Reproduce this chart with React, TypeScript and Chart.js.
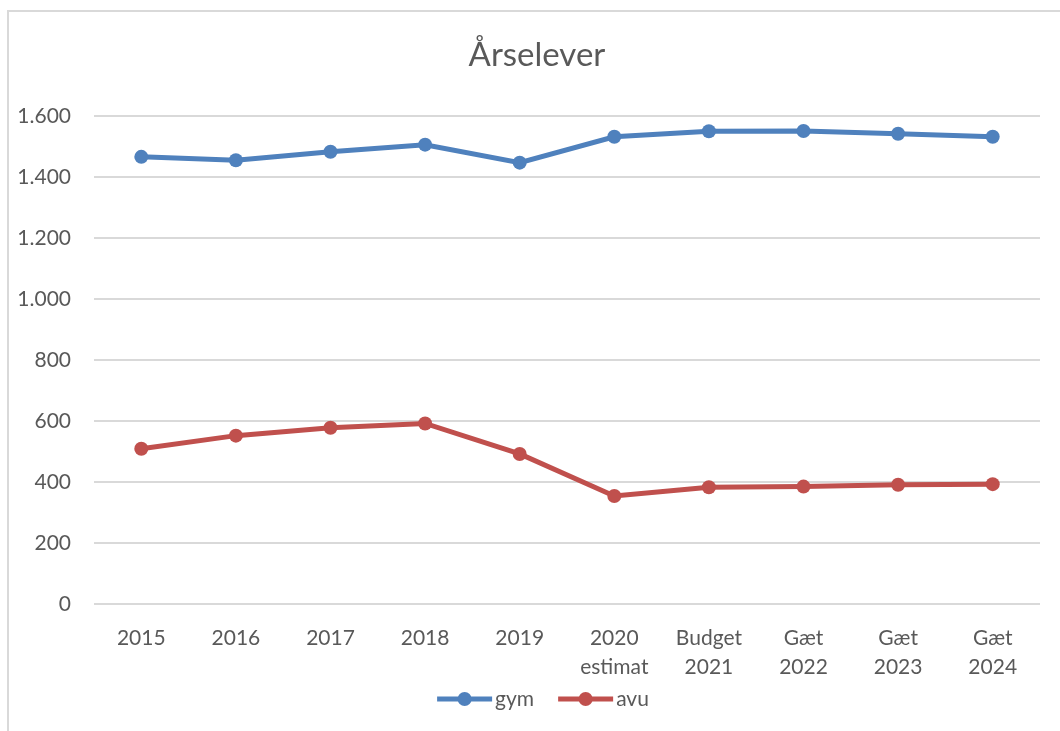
import React, { useEffect, useRef } from "react";
import { Chart, registerables } from "chart.js";

Chart.register(...registerables);

const chartTitle = "Årselever";
const categories: string[][] = [
  ["2015"],
  ["2016"],
  ["2017"],
  ["2018"],
  ["2019"],
  ["2020", "estimat"],
  ["Budget", "2021"],
  ["Gæt", "2022"],
  ["Gæt", "2023"],
  ["Gæt", "2024"],
];
const gymValues = [1466, 1455, 1483, 1506, 1447, 1532, 1550, 1551, 1542, 1532];
const avuValues = [509, 552, 578, 592, 492, 354, 383, 385, 391, 393];
const seriesNames = ["gym", "avu"];
const yMin = 0;
const yMax = 1600;
const yStep = 200;

const FONT = "Lato, 'Noto Sans', sans-serif";
const TEXT_COLOR = "#595959";
const GRID_COLOR = "#d9d9d9";
const BLUE = "#4F81BD";
const RED = "#C0504D";

function formatThousands(v: number): string {
  const s = Math.round(v).toString();
  return s.replace(/\B(?=(\d{3})+(?!\d))/g, ".");
}

const framePlugin = {
  id: "frame",
  beforeDraw(chart: any) {
    const ctx = chart.ctx;
    ctx.save();
    ctx.fillStyle = "#ffffff";
    ctx.fillRect(0, 0, chart.width, chart.height);
    ctx.strokeStyle = GRID_COLOR;
    ctx.lineWidth = 2;
    ctx.strokeRect(8, 11, 1100, 1000);
    ctx.restore();
  },
};

const titlePlugin = {
  id: "customTitle",
  afterDraw(chart: any) {
    const ctx = chart.ctx;
    ctx.save();
    ctx.font = `33px ${FONT}`;
    ctx.fillStyle = TEXT_COLOR;
    ctx.textAlign = "center";
    ctx.textBaseline = "alphabetic";
    ctx.fillText(chartTitle, 537, 66);
    ctx.restore();
  },
};

const legendPlugin = {
  id: "customLegend",
  afterDraw(chart: any) {
    const ctx = chart.ctx;
    ctx.save();
    ctx.font = `21px ${FONT}`;
    const lineLen = 55;
    const gap = 3;
    const itemGap = 24;
    const items = chart.data.datasets.map((ds: any) => ({
      label: ds.label,
      color: ds.borderColor,
      w: lineLen + gap + ctx.measureText(ds.label).width,
    }));
    const total = items.reduce((a: number, it: any) => a + it.w, 0) + itemGap * (items.length - 1);
    let x = 543 - total / 2;
    const y = 699;
    for (const it of items) {
      ctx.strokeStyle = it.color;
      ctx.lineWidth = 5;
      ctx.lineCap = "butt";
      ctx.beginPath();
      ctx.moveTo(x, y);
      ctx.lineTo(x + lineLen, y);
      ctx.stroke();
      ctx.fillStyle = it.color;
      ctx.beginPath();
      ctx.arc(x + lineLen / 2, y, 7, 0, Math.PI * 2);
      ctx.fill();
      ctx.fillStyle = TEXT_COLOR;
      ctx.textAlign = "left";
      ctx.textBaseline = "middle";
      ctx.fillText(it.label, x + lineLen + gap, y);
      x += it.w + itemGap;
    }
    ctx.restore();
  },
};

export default function App() {
  const canvasRef = useRef<HTMLCanvasElement | null>(null);

  useEffect(() => {
    document.body.style.margin = "0";
    const canvas = canvasRef.current;
    if (!canvas) return;
    const chart = new Chart(canvas, {
      type: "line",
      data: {
        labels: categories,
        datasets: [
          {
            label: seriesNames[0],
            data: gymValues,
            borderColor: BLUE,
            backgroundColor: BLUE,
            pointBackgroundColor: BLUE,
            pointBorderWidth: 0,
            pointRadius: 7,
            borderWidth: 5,
            tension: 0,
          },
          {
            label: seriesNames[1],
            data: avuValues,
            borderColor: RED,
            backgroundColor: RED,
            pointBackgroundColor: RED,
            pointBorderWidth: 0,
            pointRadius: 7,
            borderWidth: 5,
            tension: 0,
          },
        ],
      },
      options: {
        responsive: false,
        animation: false,
        layout: { padding: { top: 116, right: 20, bottom: 0, left: 0 } },
        plugins: {
          legend: { display: false },
          title: { display: false },
          tooltip: { enabled: false },
        },
        scales: {
          x: {
            offset: true,
            grid: { display: false },
            border: { display: false },
            ticks: {
              color: TEXT_COLOR,
              font: { family: FONT, size: 21, lineHeight: 1.38 },
              padding: 12,
              maxRotation: 0,
              autoSkip: false,
            },
            afterFit(scale: any) {
              scale.height = 127;
            },
          },
          y: {
            min: yMin,
            max: yMax,
            grid: { color: GRID_COLOR, lineWidth: 2, drawTicks: false },
            border: { display: false },
            ticks: {
              stepSize: yStep,
              color: TEXT_COLOR,
              font: { family: FONT, size: 21 },
              padding: 23,
              callback: (v: any) => formatThousands(Number(v)),
            },
            afterFit(scale: any) {
              scale.width = 94;
            },
          },
        },
      },
      plugins: [framePlugin, titlePlugin, legendPlugin],
    });
    return () => chart.destroy();
  }, []);

  return (
    <div style={{ width: 1060, height: 731 }}>
      <canvas ref={canvasRef} width={1060} height={731} style={{ width: 1060, height: 731, display: "block" }} />
    </div>
  );
}
